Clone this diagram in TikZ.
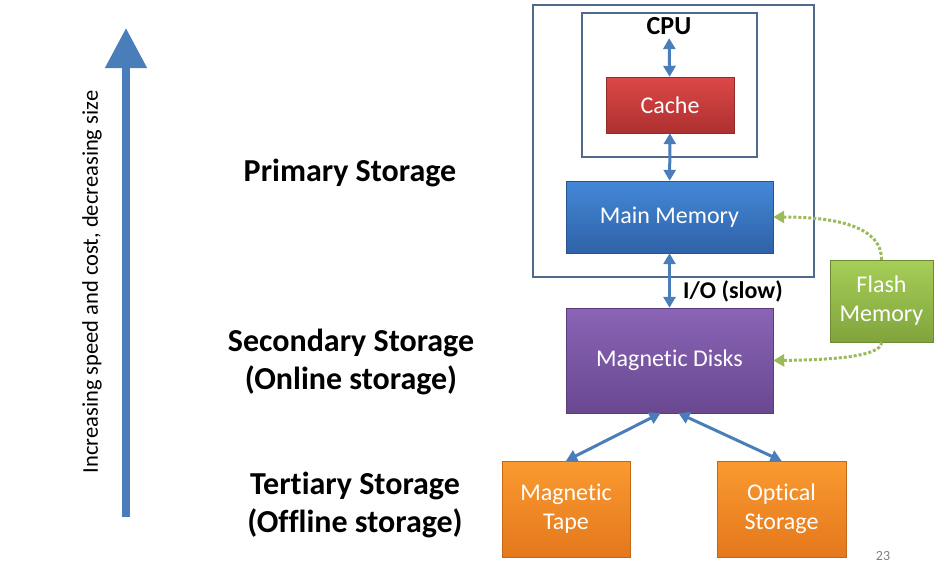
\documentclass[tikz,border=0pt]{standalone}
\usepackage{fontspec}
\setmainfont[Ligatures={TeX,NoCommon}]{Carlito}
\usepackage{xcolor}
\usetikzlibrary{arrows.meta}
\definecolor{arrowblue}{HTML}{4A7EBB}
\definecolor{framecol}{HTML}{4F6A8C}
\definecolor{flashgreen}{HTML}{9BBB59}
\definecolor{cachetop}{HTML}{DC4848}
\definecolor{cachebot}{HTML}{AE3030}
\definecolor{mmtop}{HTML}{4388D8}
\definecolor{mmbot}{HTML}{2F62A8}
\definecolor{disktop}{HTML}{8A64B6}
\definecolor{diskbot}{HTML}{694890}
\definecolor{flashtop}{HTML}{A6CE58}
\definecolor{flashbot}{HTML}{80A43C}
\definecolor{orangetop}{HTML}{FA9A30}
\definecolor{orangebot}{HTML}{E4781C}
\begin{document}
\begin{tikzpicture}[x=1pt,y=-1pt]
      \useasboundingbox(0,0) rectangle (944,576);
      \tikzset{B/.style 2 args = {shape=rectangle, draw=#2!85!black, text=white, top color=#1, bottom color=#2, font=\fontsize{24}{29}\selectfont, align=center}}
      \tikzset{F/.style = {shape=rectangle, draw=framecol, line width=1.2pt}}
      \tikzset{L/.style = {font=\fontsize{32}{38}\selectfont\bfseries, align=center}}
      \tikzset{E/.style = {draw=arrowblue, line width=3pt, {Triangle[width=12pt,length=11pt]}-{Triangle[width=12pt,length=11pt]}}}
      \tikzset{D/.style = {draw=flashgreen, line width=3pt, dotted, -{Triangle[width=12pt,length=11pt]}}}
      \node[F,minimum width=281pt,minimum height=272pt](prim) at (673.5,141) {};
      \node[F,minimum width=175pt,minimum height=144pt](cpubox) at (669.5,85) {};
      \node[font=\fontsize{26}{30}\selectfont\bfseries](cpu) at (669,26) {CPU};
      \node[B={cachetop}{cachebot},minimum width=128pt,minimum height=56pt](cache) at (670,105) {Cache};
      \node[B={mmtop}{mmbot},minimum width=207pt,minimum height=72pt](mm) at (669.5,217) {Main Memory};
      \node[B={disktop}{diskbot},minimum width=207pt,minimum height=105pt](disks) at (669.5,360.5) {Magnetic Disks};
      \node[B={flashtop}{flashbot},minimum width=103pt,minimum height=82pt](flash) at (881.5,301) {Flash\\Memory};
      \node[B={orangetop}{orangebot},minimum width=128pt,minimum height=96pt](tape) at (566,509) {Magnetic\\Tape};
      \node[B={orangetop}{orangebot},minimum width=129pt,minimum height=96pt](optical) at (781.5,509) {Optical\\Storage};
      \node[L](primary) at (350,173) {Primary Storage};
      \node[L](secondary) at (351,362) {Secondary Storage\\(Online storage)};
      \node[L](tertiary) at (355,505) {Tertiary Storage\\(Offline storage)};
      \node[font=\fontsize{24}{28}\selectfont\bfseries](io) at (733,291) {I/O (slow)};
      \node[text=gray,font=\fontsize{14}{16}\selectfont](page) at (883,556) {23};
      \coordinate (bottom) at (126,517);
      \coordinate (top) at (126,28);
      \draw[draw=arrowblue,line width=8pt,-{Triangle[width=40pt,length=40pt]}](bottom) to (top);
      \node[rotate=90,font=\fontsize{22.5}{26}\selectfont](axis) at (92,282) {Increasing speed and cost, decreasing size};
      \draw[E](cpu) to (cache);
      \draw[E](cache) to (mm);
      \draw[E](mm) to (disks);
      \draw[E]([xshift=-9pt]disks.south) to (tape.north);
      \draw[E]([xshift=9pt]disks.south) to (optical.north);
      \draw[D](flash.north) .. controls (882,228) and (840,217) .. (mm.east);
      \draw[D](flash.south) .. controls (882,358) and (820,360) .. (disks.east);
    \end{tikzpicture}
\end{document}
